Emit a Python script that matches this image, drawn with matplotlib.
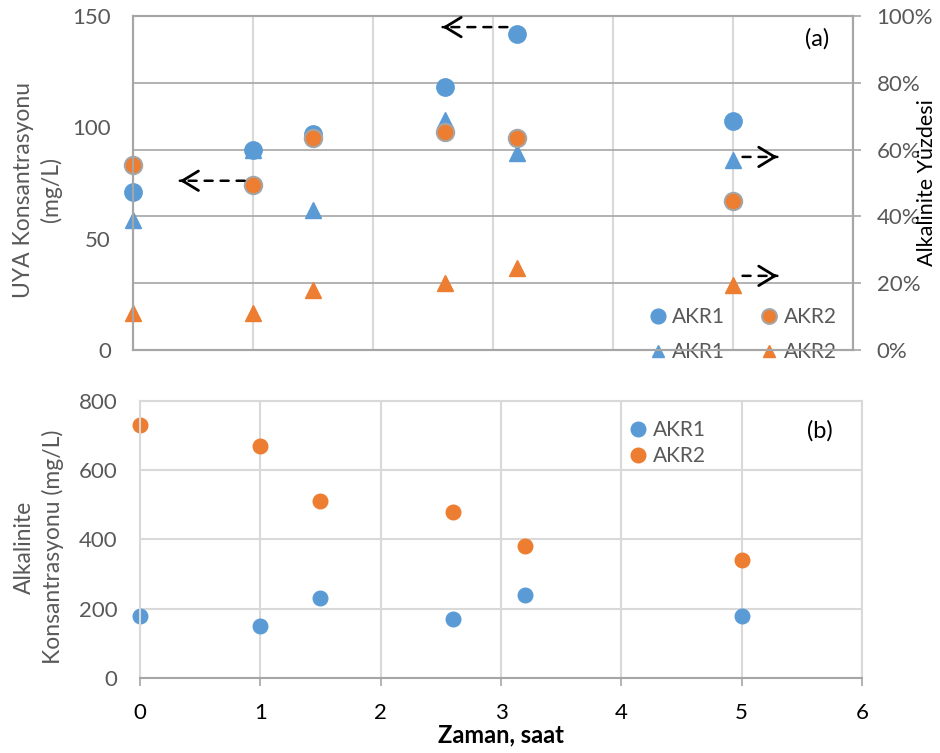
import matplotlib.pyplot as plt
from matplotlib.ticker import PercentFormatter

plt.rcParams['font.family'] = ['Lato', 'DejaVu Sans']

# ölçüm zamanları (saat)
hours = [0, 1, 1.5, 2.6, 3.2, 5]

# (a) UYA konsantrasyonu, mg/L
uya_akr1 = [71, 90, 97, 118, 142, 103]
uya_akr2 = [83, 74, 95, 98, 95, 67]

# (a) alkalinite yüzdesi, %
pct_akr1 = [39, 60, 42, 69, 59, 57]
pct_akr2 = [11, 11, 18, 20, 24.5, 19.5]

# (b) alkalinite konsantrasyonu, mg/L
alk_akr1 = [180, 150, 230, 170, 240, 180]
alk_akr2 = [730, 670, 510, 480, 380, 340]

BLUE = '#5B9BD5'
ORANGE = '#ED7D31'
EDGE = '#A5A5A5'
GRID_DARK = '#A6A6A6'
GRID_LIGHT = '#D9D9D9'
TXT = '#595959'


def dashed_arrow(ax, x_from, x_to, y):
    # kesikli gövde + düz ok ucu
    ax.annotate('', xy=(x_to, y), xytext=(x_from, y),
                arrowprops=dict(arrowstyle='-', color='k', lw=1.8, ls=(0, (3.2, 3.2)),
                                shrinkA=0, shrinkB=0))
    step = 0.04 if x_to < x_from else -0.04
    ax.annotate('', xy=(x_to, y), xytext=(x_to + step, y),
                arrowprops=dict(arrowstyle='->,head_length=1.15,head_width=0.7', color='k',
                                lw=2.0, shrinkA=0, shrinkB=0))


fig = plt.figure(figsize=(9.4, 7.53), dpi=100)

# ---------------- (a) ----------------
ax_c = fig.add_axes([0.1415, 0.5352, 0.7659, 0.4436])
ax_p = ax_c.twinx()
ax_c.set_zorder(ax_p.get_zorder() + 1)
ax_c.patch.set_visible(False)

t1, = ax_p.plot(hours, pct_akr1, ls='none', marker='^', ms=11, color=BLUE, mec=BLUE, clip_on=False)
t2, = ax_p.plot(hours, pct_akr2, ls='none', marker='^', ms=11, color=ORANGE, mec=ORANGE, clip_on=False)
c1, = ax_c.plot(hours, uya_akr1, ls='none', marker='o', ms=12.5, color=BLUE, mec=BLUE, clip_on=False)
c2, = ax_c.plot(hours, uya_akr2, ls='none', marker='o', ms=12.5, color=ORANGE, mec=EDGE, mew=1.5,
                clip_on=False)

ax_c.set_xlim(0, 6)
ax_c.set_ylim(0, 150)
ax_c.set_yticks([0, 50, 100, 150])
ax_p.set_ylim(0, 100)
ax_p.set_yticks(range(0, 101, 20))
ax_p.yaxis.set_major_formatter(PercentFormatter(decimals=0))

ax_p.xaxis.set_visible(True)
ax_p.set_xticks(range(0, 7))
ax_p.grid(axis='x', color=GRID_LIGHT, lw=1.5)
ax_p.grid(axis='y', color=GRID_DARK, lw=1.2)
ax_p.set_axisbelow(True)

for a in (ax_c, ax_p):
    a.tick_params(axis='x', length=0, labelbottom=False)
    for s in a.spines.values():
        s.set_color(GRID_DARK)
        s.set_linewidth(1.5)
ax_c.tick_params(axis='y', length=0, labelsize=16, labelcolor=TXT, pad=16)
ax_p.tick_params(axis='y', length=6, width=1.2, color=GRID_DARK, labelsize=16,
                 labelcolor=TXT, pad=11)

ax_c.set_ylabel('UYA Konsantrasyonu\n(mg/L)', fontsize=16.5, color=TXT, linespacing=1.35)
ax_c.yaxis.set_label_coords(-0.133, 0.48)
ax_c.yaxis.label.set_va('center')
ax_p.set_ylabel('Alkalinite Yüzdesi', fontsize=15.5, color='k')
ax_p.yaxis.set_label_coords(1.103, 0.5)
ax_p.yaxis.label.set_va('center')

ax_c.text(0.95, 0.931, '(a)', transform=ax_c.transAxes, fontsize=17,
          ha='center', va='center')

dashed_arrow(ax_c, 0.93, 0.39, 76)
dashed_arrow(ax_c, 3.12, 2.58, 145)
dashed_arrow(ax_p, 5.08, 5.37, 57.8)
dashed_arrow(ax_p, 5.08, 5.37, 22.2)

leg = ax_c.legend([c1, t1, c2, t2], ['AKR1', 'AKR1', 'AKR2', 'AKR2'], ncol=2, frameon=False,
                  loc='center', bbox_to_anchor=(0.846, 0.046), fontsize=15, labelcolor=TXT,
                  handlelength=1.0, handletextpad=0.2, columnspacing=1.6, labelspacing=0.75,
                  borderaxespad=0, markerscale=0.85)
leg.set_zorder(2)

# ---------------- (b) ----------------
ax_b = fig.add_axes([0.1489, 0.0996, 0.7681, 0.3679])
b1, = ax_b.plot(hours, alk_akr1, ls='none', marker='o', ms=10.5, color=BLUE, label='AKR1',
                clip_on=False)
b2, = ax_b.plot(hours, alk_akr2, ls='none', marker='o', ms=10.5, color=ORANGE, label='AKR2',
                clip_on=False)

ax_b.set_xlim(0, 6)
ax_b.set_ylim(0, 800)
ax_b.set_xticks(range(0, 7))
ax_b.set_yticks(range(0, 801, 200))
ax_b.grid(color=GRID_LIGHT, lw=1.5)
ax_b.set_axisbelow(True)
for name, s in ax_b.spines.items():
    s.set_color(GRID_DARK if name == 'bottom' else GRID_LIGHT)
    s.set_linewidth(1.5)
ax_b.tick_params(axis='x', direction='out', length=6, width=1.2, color=GRID_DARK,
                 labelsize=16, labelcolor='k', pad=12)
ax_b.tick_params(axis='y', length=0, labelsize=16, labelcolor=TXT, pad=16)

ax_b.set_xlabel('Zaman, saat', fontsize=17, fontweight='bold', labelpad=0)
ax_b.set_ylabel('Alkalinite\nKonsantrasyonu (mg/L)', fontsize=16.5, color=TXT, linespacing=1.4)
ax_b.yaxis.set_label_coords(-0.14, 0.473)
ax_b.yaxis.label.set_va('center')

ax_b.text(0.942, 0.892, '(b)', transform=ax_b.transAxes, fontsize=17,
          ha='center', va='center')

ax_b.legend(handles=[b1, b2], frameon=False, loc='center', bbox_to_anchor=(0.73, 0.848),
            fontsize=15, labelcolor=TXT, handlelength=1.0, handletextpad=0.2,
            labelspacing=0.3, borderaxespad=0)

fig.savefig('out.png', dpi=100)
